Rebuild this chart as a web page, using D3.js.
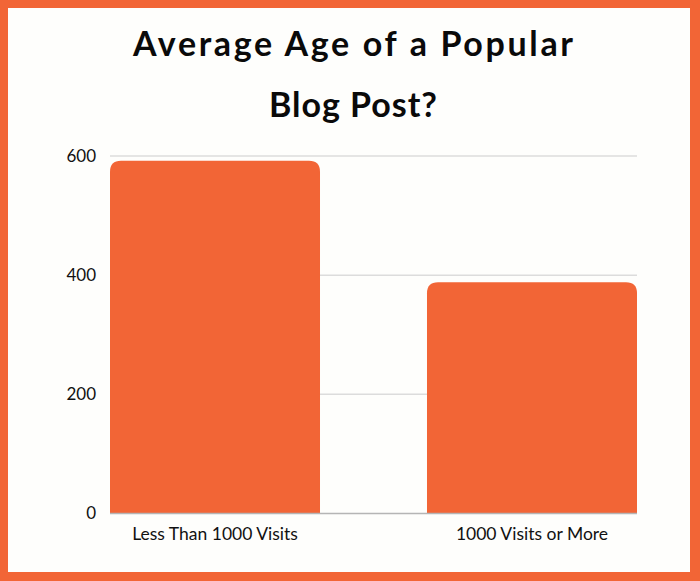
<!DOCTYPE html>
<html><head><meta charset="utf-8">
<script src="https://cdn.jsdelivr.net/npm/d3@7"></script>
<style>html,body{margin:0;padding:0;background:#fff}</style>
</head><body>
<svg id="c" width="700" height="581"></svg>
<script>
const categories = ["Less Than 1000 Visits", "1000 Visits or More"];
const values = [592, 388];
const yTicks = [0, 200, 400, 600];
const titleLines = ["Average Age of a Popular", "Blog Post?"];

const W = 700, H = 581;
const svg = d3.select("#c");
const orange = "#F26536";

svg.append("rect").attr("x",0).attr("y",0).attr("width",W).attr("height",H).attr("fill",orange);
svg.append("rect").attr("x",8).attr("y",8).attr("width",682).attr("height",564).attr("fill","#fefefc");

const m = {left:110, right:637, top:156, bottom:513.5};
const x = d3.scaleBand().domain(categories).range([m.left, m.right]).paddingInner(0.3375).paddingOuter(0);
const y = d3.scaleLinear().domain([0,600]).range([m.bottom, m.top]);

svg.append("g").selectAll("line").data(yTicks.filter(d=>d>0)).join("line")
  .attr("x1",m.left).attr("x2",m.right)
  .attr("y1",d=>y(d)).attr("y2",d=>y(d))
  .attr("stroke","#dcdcdc").attr("stroke-width",1.5);

svg.append("g").selectAll("text").data(yTicks).join("text")
  .attr("x",96).attr("y",d=>y(d)).attr("dy","0.35em")
  .attr("text-anchor","end")
  .attr("font-family","Lato, sans-serif").attr("font-size",17).attr("fill","#111")
  .text(d=>d);

const r = 11;
function barPath(d,i){
  const x0 = x(categories[i]), w = x.bandwidth(), y0 = y(d), y1 = y(0);
  return `M${x0},${y1}V${y0+r}Q${x0},${y0} ${x0+r},${y0}H${x0+w-r}Q${x0+w},${y0} ${x0+w},${y0+r}V${y1}Z`;
}
svg.append("g").selectAll("path").data(values).join("path")
  .attr("d",barPath).attr("fill",orange);

svg.append("line").attr("x1",m.left).attr("x2",m.right)
  .attr("y1",y(0)).attr("y2",y(0)).attr("stroke","#b5b5b5").attr("stroke-width",1.5);

svg.append("g").selectAll("text").data(categories).join("text")
  .attr("x",d=>x(d)+x.bandwidth()/2).attr("y",540)
  .attr("text-anchor","middle")
  .attr("font-family","Lato, sans-serif").attr("font-size",17.5).attr("fill","#111")
  .text(d=>d);

const titleWidths = [440, 168];
svg.append("g").selectAll("text").data(titleLines).join("text")
  .attr("x",353).attr("y",(d,i)=>56+i*61)
  .attr("text-anchor","middle")
  .attr("font-family","Lato, sans-serif").attr("font-weight","bold").attr("font-size",34).attr("fill","#0a0a0a")
  .attr("textLength",(d,i)=>titleWidths[i]).attr("lengthAdjust","spacing")
  .text(d=>d);
</script>
</body></html>
